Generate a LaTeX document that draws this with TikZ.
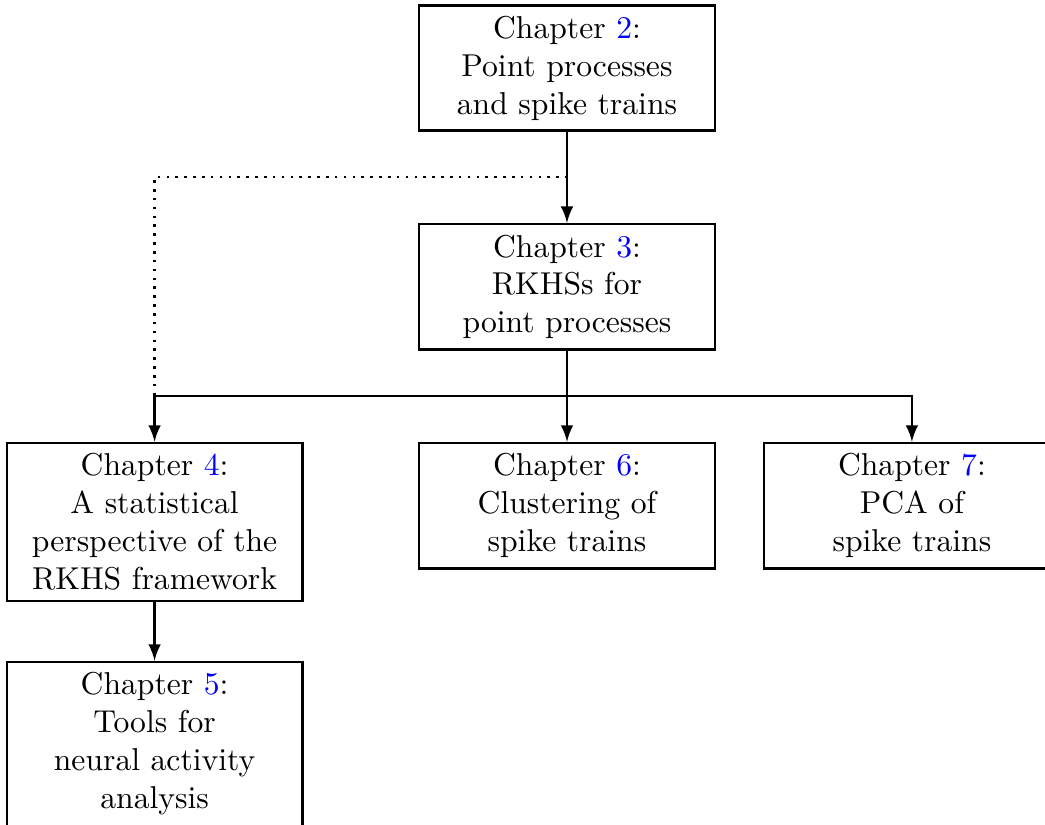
\documentclass[tikz,border=0pt]{standalone}
\usetikzlibrary{positioning}
\newcommand{\chapnum}[1]{\textcolor{blue}{#1}}
\tikzset{chap/.style={draw,thick,rectangle,text width=3.05cm,align=center}}
\begin{document}
\begin{tikzpicture}[>=latex,thick]
            \useasboundingbox (-6.30,0.756) rectangle (5.311,-8.4);
            \node[chap] (ch2) at (0,0) {Chapter \chapnum{2}:\\ Point processes\\ and spike trains};
            \node[chap,below=1.01cm of ch2] (ch3) {Chapter \chapnum{3}:\\ RKHSs for\\ point processes};
            \node[chap,below=1.01cm of ch3] (ch6) {Chapter \chapnum{6}:\\ Clustering of\\ spike trains};
            \node[chap,left=1.27cm of ch6.north west,anchor=north east] (ch4) {Chapter \chapnum{4}:\\ A statistical\\ perspective of the\\ RKHS framework};
            \node[chap,right=0.52cm of ch6] (ch7) {Chapter \chapnum{7}:\\ PCA of\\ spike trains};
            \node[chap,below=0.65cm of ch4] (ch5) {Chapter \chapnum{5}:\\ Tools for\\ neural activity\\ analysis};
            \draw[->] (ch2) -- (ch3);
            \draw[->] (ch3) -- (ch6);
            \draw[->] (ch3.south) -- ++(0,-0.5) -| (ch4.north);
            \draw[->] (ch3.south) -- ++(0,-0.5) -| (ch7.north);
            \draw[->] (ch4) -- (ch5);
            \draw[dotted] (ch2.south) -- ++(0,-0.5) -| ([yshift=0.5cm]ch4.north);
\end{tikzpicture}
\end{document}
